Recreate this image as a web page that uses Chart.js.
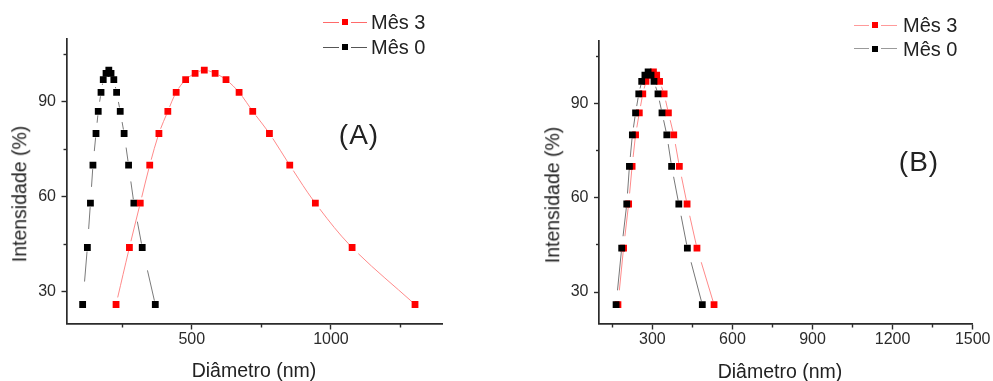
<!DOCTYPE html>
<html lang="pt">
<head>
<meta charset="utf-8">
<title>Distribuição de tamanho de partícula</title>
<script src="https://cdn.jsdelivr.net/npm/chart.js@4.4.1/dist/chart.umd.min.js"></script>
<style>
  html, body { margin: 0; padding: 0; background: #fff; }
  #wrap { position: relative; width: 993px; height: 381px; overflow: hidden;
          font-family: Arial, "Liberation Sans", sans-serif; color: #222; }
  .panel { position: absolute; top: 0; height: 381px; }
  .panel canvas { display: block; }
  .txt { position: absolute; white-space: nowrap; line-height: 1; }
  .ytitle { font-size: 19.5px; transform: translate(-50%, -50%) rotate(-90deg); }
  .xtitle { font-size: 19.5px; transform: translate(-50%, -50%); }
  .tag { font-size: 28px; letter-spacing: 1px; transform: translate(-50%, -50%); }
  .leg { font-size: 20px; transform: translateY(-50%); }
  .seg { position: absolute; height: 1px; }
  .sym { position: absolute; }
</style>
</head>
<body>
<div id="wrap">
  <div class="panel" style="left:0;width:496px"><canvas id="chartA" width="496" height="381"></canvas></div>
  <div class="panel" style="left:496px;width:497px"><canvas id="chartB" width="497" height="381"></canvas></div>
</div>
<script>
// Intensity levels (%) shared by every distribution curve
const intensidade = [26, 44, 58, 70, 80, 87, 93, 97, 99, 100, 99, 97, 93, 87, 80, 70, 58, 44, 26];

// (A) diameters in nm
const diametroA_mes0 = [108, 125, 136, 145, 156, 164, 174, 182, 192, 202, 210, 220, 230, 243, 257, 273, 292, 322, 369];
const diametroA_mes3 = [228, 276, 315, 349, 382, 414, 444, 478, 512, 545, 584, 623, 670, 719, 779, 852, 944, 1076, 1302];

// (B) diameters in nm
const diametroB_mes0 = [164, 185, 204, 214, 225, 237, 249, 260, 272, 284, 295, 306, 321, 336, 354, 372, 399, 431, 487];
const diametroB_mes3 = [171, 192, 211, 224, 237, 251, 264, 276, 291, 304, 316, 327, 344, 360, 380, 401, 430, 467, 531];

// Axis ticks
const yTicks = [30, 60, 90];
const yMinorTicks = [45, 75, 105];
const xTicksA = [500, 1000];
const xMinorTicksA = [250, 750, 1250];
const xTicksB = [300, 600, 900, 1200, 1500];
const xMinorTicksB = [150, 450, 750, 1050, 1350];

const seriesNames = ['Mês 3', 'Mês 0'];
const yTitle = 'Intensidade (%)';
const xTitle = 'Diâmetro (nm)';

const FONT = 'Arial, "Liberation Sans", sans-serif';
const AXIS = '#2b2b2b';

const pts = (xs, ys) => xs.map((x, i) => ({ x, y: ys[i] }));

// Connecting lines leave a gap next to each symbol
function gapDash(startMin, startFrac, endGap) {
  return ctx => {
    const L = Math.hypot(ctx.p1.x - ctx.p0.x, ctx.p1.y - ctx.p0.y);
    const a = startMin + startFrac * L;
    const vis = L - a - endGap;
    if (vis <= 0.5) return [0, L + 10];
    return [0, a, vis, endGap + 10];
  };
}

function series(label, xs, color, lineColor, tension, dash, order) {
  return {
    label, data: pts(xs, intensidade), showLine: true,
    borderColor: lineColor, borderWidth: 1, tension,
    pointStyle: 'rect', pointRadius: 4.8, pointHoverRadius: 4.8,
    pointBackgroundColor: color, pointBorderWidth: 0,
    segment: { borderDash: dash }, order
  };
}

function tickList(values) {
  return s => { s.ticks = values.map(v => ({ value: v })); };
}

function makeScales(g) {
  const tickFont = { family: FONT, size: 16, lineHeight: 1 };
  return {
    x: {
      type: 'linear', axis: 'x', position: 'bottom', weight: 1,
      min: g.xmin, max: g.xmax,
      afterBuildTicks: tickList(g.xTicks),
      afterFit: s => { s.height = g.xHeight; },
      ticks: { font: tickFont, color: AXIS, padding: 2.5, maxRotation: 0, autoSkip: false,
               callback: v => String(v) },
      grid: { drawOnChartArea: false, drawTicks: true, tickLength: 6, tickColor: AXIS, tickWidth: 1.4 },
      border: { display: true, color: AXIS, width: 1.7 }
    },
    xMinor: {
      type: 'linear', axis: 'x', position: 'bottom', weight: 0, display: true,
      min: g.xmin, max: g.xmax,
      afterBuildTicks: tickList(g.xMinor),
      afterFit: s => { s.height = 0; },
      ticks: { display: false },
      grid: { drawOnChartArea: false, drawTicks: true, tickLength: 4, tickColor: AXIS, tickWidth: 1.4 },
      border: { display: false }
    },
    y: {
      type: 'linear', axis: 'y', position: 'left', weight: 1,
      min: 20, max: 110,
      afterBuildTicks: tickList(yTicks),
      afterFit: s => { s.width = g.yWidth; },
      ticks: { font: tickFont, color: AXIS, padding: 5.5, callback: v => String(v) },
      grid: { drawOnChartArea: false, drawTicks: true, tickLength: 5, tickColor: AXIS, tickWidth: 1.4 },
      border: { display: true, color: AXIS, width: 1.7 }
    },
    yMinor: {
      type: 'linear', axis: 'y', position: 'left', weight: 0, display: true,
      min: 20, max: 110,
      afterBuildTicks: tickList(yMinorTicks),
      afterFit: s => { s.width = 0; },
      ticks: { display: false },
      grid: { drawOnChartArea: false, drawTicks: true, tickLength: 3, tickColor: AXIS, tickWidth: 1.4 },
      border: { display: false }
    }
  };
}

function makeChart(id, datasets, g) {
  return new Chart(document.getElementById(id), {
    type: 'scatter',
    data: { datasets: datasets.map(d => Object.assign({ xAxisID: 'x', yAxisID: 'y' }, d)) },
    options: {
      responsive: false, animation: false, devicePixelRatio: 1,
      layout: { padding: g.padding },
      scales: makeScales(g),
      plugins: { legend: { display: false }, tooltip: { enabled: false } },
      events: []
    }
  });
}

// Panel A: the Mês 3 curve is drawn as a smooth spline, on top
makeChart('chartA', [
  series(seriesNames[1], diametroA_mes0, '#000000', '#7a7a7a', 0, gapDash(3, 0.35, 4), 2),
  series(seriesNames[0], diametroA_mes3, '#ff0000', '#ff8a8a', 0.35, gapDash(3.5, 0.06, 3.5), 1)
], {
  xmin: 50, xmax: 1400, xTicks: xTicksA, xMinor: xMinorTicksA,
  xHeight: 57.5, yWidth: 66.5,
  padding: { left: 0, top: 38.5, right: 53.7, bottom: 0 }
});

// Panel B: Mês 0 symbols sit on top
makeChart('chartB', [
  series(seriesNames[0], diametroB_mes3, '#ff0000', '#ff8a8a', 0, gapDash(3, 0.2, 3.5), 2),
  series(seriesNames[1], diametroB_mes0, '#000000', '#777777', 0, gapDash(3, 0.2, 3.5), 1)
], {
  xmin: 100, xmax: 1500, xTicks: xTicksB, xMinor: xMinorTicksB,
  xHeight: 57.5, yWidth: 103,
  padding: { left: 0, top: 40.5, right: 20.3, bottom: 0 }
});

// Text and legends laid over the canvases
const wrap = document.getElementById('wrap');
function addText(cls, text, x, y) {
  const d = document.createElement('div');
  d.className = 'txt ' + cls;
  d.textContent = text;
  d.style.left = x + 'px';
  d.style.top = y + 'px';
  wrap.appendChild(d);
}
function addBox(cls, x, y, w, h, color) {
  const d = document.createElement('div');
  d.className = cls;
  Object.assign(d.style, { left: x + 'px', top: y + 'px', width: w + 'px', height: h + 'px', background: color });
  wrap.appendChild(d);
}
function addLegend(x0, x1, textX, rows) {
  const mid = (x0 + x1) / 2, sz = 6, gap = 3;
  rows.forEach(r => {
    addBox('seg', x0, r.y - 0.5, mid - sz / 2 - gap - x0, 1, r.line);
    addBox('seg', mid + sz / 2 + gap, r.y - 0.5, x1 - (mid + sz / 2 + gap), 1, r.line);
    addBox('sym', mid - sz / 2, r.y - sz / 2, sz, sz, r.mark);
    addText('leg', r.label, textX, r.y);
  });
}

addText('ytitle', yTitle, 20, 194);
addText('xtitle', xTitle, 254, 370.5);
addText('tag', '(A)', 359, 135);
addLegend(322.5, 366.5, 371, [
  { label: seriesNames[0], line: '#ff6a6a', mark: '#ff0000', y: 22 },
  { label: seriesNames[1], line: '#555555', mark: '#000000', y: 47 }
]);

addText('ytitle', yTitle, 552.5, 195);
addText('xtitle', xTitle, 780, 371.5);
addText('tag', '(B)', 919, 162);
addLegend(853.5, 896.5, 903, [
  { label: seriesNames[0], line: '#ff9a9a', mark: '#ff0000', y: 25 },
  { label: seriesNames[1], line: '#9a9a9a', mark: '#000000', y: 48.5 }
]);
</script>
</body>
</html>
